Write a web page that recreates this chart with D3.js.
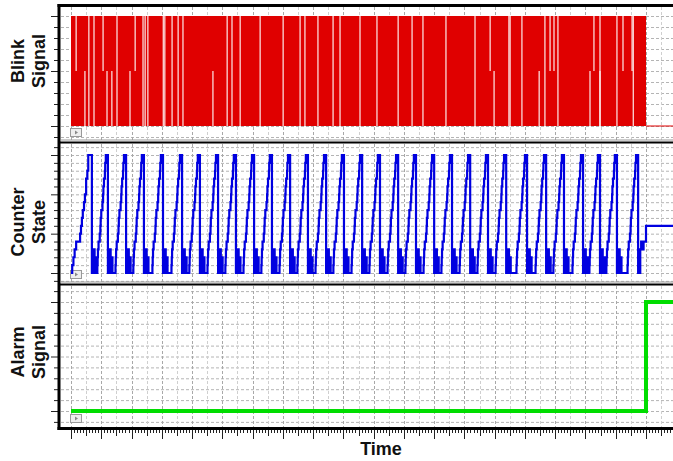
<!DOCTYPE html>
<html>
<head>
<meta charset="utf-8">
<script src="https://cdn.jsdelivr.net/npm/d3@7"></script>
<style>
  body { margin: 0; background: #fff; }
  svg { display: block; }
</style>
</head>
<body>
<svg id="chart" width="673" height="461"></svg>
<script>
// time is in seconds, the run stops at timeEnd
const timeEnd = 19
const timeView = 21

// blink signal: a dense on/off square wave, kept as the white gaps that show through it
const blinkGapsFull = [0.59, 0.76, 1.52, 2.38, 2.45, 2.54, 3.05, 3.10, 3.34, 3.54, 3.70, 5.16, 5.32, 5.59, 6.25, 7.01, 7.57, 7.73, 8.16, 8.66, 8.89, 9.55, 10.11, 10.81, 11.27, 11.63, 12.39, 13.35, 14.47, 14.51, 14.90, 15.66, 16.09, 17.48, 18.04, 18.58]
const blinkGapsUpper = [0.17, 1.06, 2.12, 13.85, 15.83, 15.96, 17.28, 18.24, 18.54]
const blinkGapsLower = [0.46, 1.19, 1.35, 1.95, 4.69, 13.98, 15.47, 17.15, 17.48]

// counter: times where it wraps from 15 back to 0
const counterResets = [0.69, 1.22, 1.82, 2.41, 3.04, 3.67, 4.26, 4.86, 5.45, 6.05, 6.64, 7.24, 7.83, 8.43, 9.02, 9.62, 10.21, 10.81, 11.40, 12.00, 12.59, 13.19, 13.78, 14.38, 15.07, 15.70, 16.29, 16.92, 17.48, 18.04, 18.74]
// first, slower climb from the start of the run
const firstRampTimes = [0, 0.04, 0.08, 0.12, 0.17, 0.30, 0.33, 0.36, 0.39, 0.43, 0.46, 0.50, 0.54, 0.57]
const firstRampValues = [0, 1, 2, 3, 4, 5, 6, 7, 8, 9, 10, 12, 13, 15]
// the staircase before each later reset (offset from reset, value)
const rampOffsets = [-0.36, -0.35, -0.34, -0.33, -0.31, -0.27, -0.25, -0.24, -0.22, -0.18, -0.16, -0.15, -0.13, -0.10, -0.09, -0.07]
const rampValues = [0, 1, 2, 3, 4, 5, 6, 7, 8, 9, 10, 11, 12, 13, 14, 15]
// glitches right after each reset
const dipOffsets = [0, 0.06, 0.09, 0.12, 0.15]
const dipValues = [0, 3, 0, 2, 0]
const counterTailTimes = [18.81, 18.84, 18.88, 18.92, timeEnd, timeView]
const counterTailValues = [3, 4, 3, 4, 6, 6]

// alarm
const alarmTimes = [0, 19, 19, timeView]
const alarmValues = [0, 0, 1, 1]

const labels = [["Blink", "Signal"], ["Counter", "State"], ["Alarm", "Signal"]]

const svg = d3.select("#chart")
const x = d3.scaleLinear().domain([0, timeEnd]).range([71, 646])

const panels = [
    { top: 7, bottom: 141, y: d3.scaleLinear().domain([0, 1]).range([126, 16]), step: 0.1, lo: -0.1, hi: 1.1, labelY: 61 },
    { top: 144, bottom: 283, y: d3.scaleLinear().domain([0, 15]).range([273, 155]), step: 1, lo: -1, hi: 16, labelY: 222 },
    { top: 286, bottom: 427, y: d3.scaleLinear().domain([0, 1]).range([411, 302]), step: 0.1, lo: -0.1, hi: 1.1, labelY: 352 }
]

const defs = svg.append("defs")

panels.forEach((p, i) => {
    defs.append("clipPath").attr("id", "clip" + i)
        .append("rect").attr("x", 61).attr("y", p.top).attr("width", 700).attr("height", p.bottom - p.top)

    const g = svg.append("g")
    const values = d3.range(Math.round((p.hi - p.lo) / p.step) + 1).map(k => +(p.lo + k * p.step).toFixed(3))
        .filter(v => p.y(v) > p.top + 1 && p.y(v) < p.bottom - 1)

    // dotted grid
    const grid = g.append("g").attr("clip-path", `url(#clip${i})`)
    grid.selectAll(".hg").data(values).enter().append("line")
        .attr("x1", 61).attr("x2", 700)
        .attr("y1", d => p.y(d) + 0.5).attr("y2", d => p.y(d) + 0.5)
        .attr("stroke", "#b4b4b4").attr("stroke-width", 1).attr("stroke-dasharray", "3,2")
    grid.selectAll(".vg").data(d3.range(0, timeView + 0.01, 0.5)).enter().append("line")
        .attr("x1", d => Math.round(x(d)) + 0.5).attr("x2", d => Math.round(x(d)) + 0.5)
        .attr("y1", p.top).attr("y2", p.bottom)
        .attr("stroke", d => d % 1 === 0 ? "#a8a8a8" : "#cfcfcf").attr("stroke-width", 1).attr("stroke-dasharray", "3,2")

    // left ticks
    g.selectAll(".yt").data(values).enter().append("line")
        .attr("x1", d => Math.abs(Math.round(d / p.step)) % 5 === 0 ? 51 : 54).attr("x2", 58)
        .attr("y1", d => p.y(d) + 0.5).attr("y2", d => p.y(d) + 0.5)
        .attr("stroke", "#222").attr("stroke-width", 1)

    // label
    const t = svg.append("text")
        .attr("transform", `translate(0,${p.labelY}) rotate(-90)`)
        .attr("text-anchor", "middle")
        .style("font-family", "'Liberation Sans', Arial, sans-serif")
        .style("font-weight", "bold").style("font-size", "18px").attr("fill", "#111")
    t.append("tspan").attr("x", 0).attr("y", 24).text(labels[i][0])
    t.append("tspan").attr("x", 0).attr("y", 45).text(labels[i][1])

    // little play button
    const b = svg.append("g").attr("transform", `translate(70,${p.bottom - 13})`)
    b.append("rect").attr("x", 0.5).attr("y", 0.5).attr("width", 11).attr("height", 8)
        .attr("fill", "#eee").attr("stroke", "#999")
    b.append("path").attr("d", "M5,2.5 L8,4.5 L5,6.5 Z").attr("fill", "#888")
})

// blink
const pb = panels[0]
const blinkG = svg.append("g").attr("clip-path", "url(#clip0)")
blinkG.append("rect")
    .attr("x", x(0)).attr("y", pb.y(1))
    .attr("width", x(timeEnd) - x(0)).attr("height", pb.y(0) - pb.y(1))
    .attr("fill", "#e00000")
blinkG.append("line")
    .attr("x1", x(timeEnd)).attr("x2", 700).attr("y1", pb.y(0)).attr("y2", pb.y(0))
    .attr("stroke", "#e00000").attr("stroke-width", 1)
const gapSets = [[blinkGapsFull, 1, 0], [blinkGapsUpper, 1, 0.5], [blinkGapsLower, 0.5, 0]]
gapSets.forEach(([gaps, hi, lo]) => {
    blinkG.selectAll(null).data(gaps).enter().append("line")
        .attr("x1", d => x(d)).attr("x2", d => x(d))
        .attr("y1", pb.y(hi)).attr("y2", pb.y(lo))
        .attr("stroke", "#fff").attr("stroke-opacity", 0.85).attr("stroke-width", 1.3)
})

// counter
const pc = panels[1]
const counterPts = firstRampTimes.map((t, k) => [t, firstRampValues[k]])
counterResets.forEach((r, i) => {
    if (i > 0) rampOffsets.forEach((o, k) => counterPts.push([r + o, rampValues[k]]))
    if (i < counterResets.length - 1) dipOffsets.forEach((o, k) => counterPts.push([r + o, dipValues[k]]))
    else counterPts.push([r, 0])
})
counterTailTimes.forEach((t, k) => counterPts.push([t, counterTailValues[k]]))
counterPts.sort((a, b) => a[0] - b[0])
svg.append("path").attr("clip-path", "url(#clip1)")
    .attr("d", d3.line().x(d => x(d[0])).y(d => pc.y(d[1])).curve(d3.curveStepAfter)(counterPts))
    .attr("fill", "none").attr("stroke", "#0000e0").attr("stroke-width", 2.2)

// alarm
const pa = panels[2]
svg.append("path").attr("clip-path", "url(#clip2)")
    .attr("d", d3.line().x(d => x(d)).y((d, k) => pa.y(alarmValues[k]))(alarmTimes))
    .attr("fill", "none").attr("stroke", "#00dd00").attr("stroke-width", 4)

// frame
const frame = svg.append("g").attr("stroke", "#000")
frame.append("line").attr("x1", 57.5).attr("x2", 673).attr("y1", 5.5).attr("y2", 5.5).attr("stroke-width", 3)
frame.append("line").attr("x1", 59).attr("x2", 59).attr("y1", 4).attr("y2", 430).attr("stroke-width", 3)
frame.append("line").attr("x1", 57.5).attr("x2", 673).attr("y1", 428.5).attr("y2", 428.5).attr("stroke-width", 3)
;[142.5, 284.5].forEach(yy => {
    frame.append("line").attr("x1", 59).attr("x2", 673).attr("y1", yy).attr("y2", yy).attr("stroke-width", 2)
    frame.append("line").attr("x1", 61).attr("x2", 673).attr("y1", yy - 2.5).attr("y2", yy - 2.5)
        .attr("stroke", "#999").attr("stroke-width", 1)
})

// time ticks
const tickVals = d3.range(0, Math.round(timeView * 10) + 1).map(k => k / 10)
svg.append("g").selectAll("line").data(tickVals).enter().append("line")
    .attr("x1", d => Math.round(x(d)) + 0.5).attr("x2", d => Math.round(x(d)) + 0.5)
    .attr("y1", 430)
    .attr("y2", (d, k) => k % 10 === 0 ? 439 : (k % 5 === 0 ? 436 : 433))
    .attr("stroke", "#222").attr("stroke-width", 1)

svg.append("text").attr("x", 381).attr("y", 455).attr("text-anchor", "middle")
    .style("font-family", "'Liberation Sans', Arial, sans-serif")
    .style("font-weight", "bold").style("font-size", "18px").attr("fill", "#111")
    .text("Time")
</script>
</body>
</html>
